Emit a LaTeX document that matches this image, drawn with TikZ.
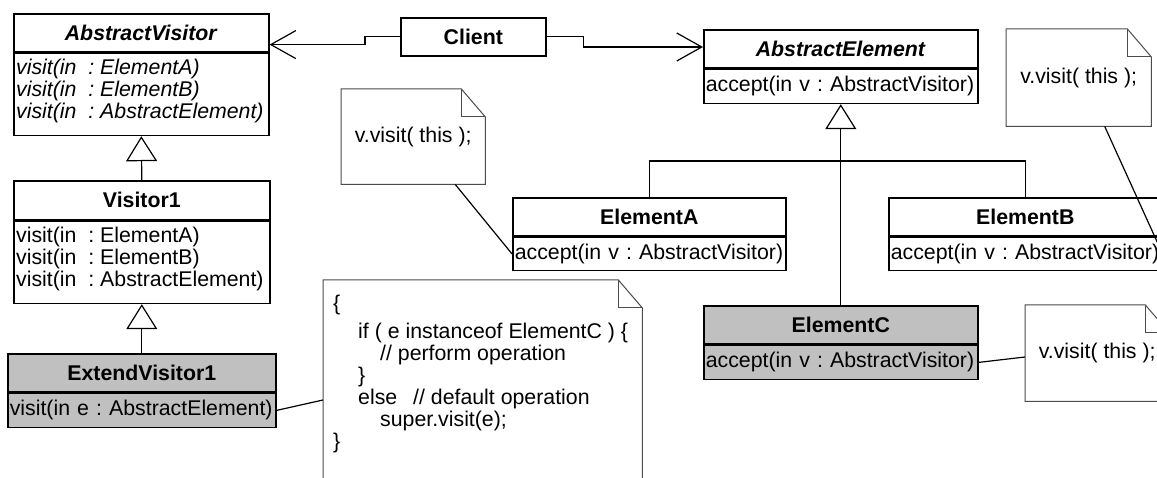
\documentclass[tikz,border=0pt]{standalone}
\usepackage{fontspec}
\setmainfont{Liberation Sans}
\usetikzlibrary{arrows.meta,calc}

\definecolor{umlgray}{HTML}{C0C0C0}
\newcommand\umlfont{\fontsize{21.3}{21.7}\selectfont\frenchspacing\hyphenpenalty=10000\relax}

\tikzset{
  uml/.style={draw=black, line width=1.6pt, inner sep=0pt, anchor=north west, font=\umlfont},
  head/.style={uml, align=center},
  body/.style={uml, align=left, inner xsep=2pt, inner ysep=0pt},
  row/.style={anchor=base west, inner sep=0pt, font=\umlfont},
  shaded/.style={fill=umlgray},
  link/.style={draw=black, line width=1.2pt},
  assoc/.style={link, -{Straight Barb[length=25pt,width=28pt]}},
  inherit/.style={link, -{Triangle[open,length=25pt,width=31pt]}},
  notebox/.style={inner sep=0pt, anchor=north west, font=\umlfont},
  noteline/.style={draw=black!70, line width=1pt, fill=white},
}

% dog-eared outline of a note node
\newcommand\drawnote[1]{%
  \draw[noteline] (#1.north west) -- ([xshift=-24pt]#1.north east)
    -- ([yshift=-28pt]#1.north east) -- (#1.south east) -- (#1.south west) -- cycle;
  \draw[noteline, fill=none] ([xshift=-24pt]#1.north east)
    -- ([xshift=-24pt,yshift=-28pt]#1.north east) -- ([yshift=-28pt]#1.north east);
}

\begin{document}
\begin{tikzpicture}[x=1pt, y=-1pt]
\useasboundingbox (0,0) rectangle (1157,478);
\clip (0,0) rectangle (1157,478);
\fill[white] (0,0) rectangle (1157,478);

% notes (drawn first so their text sits on white)
\node[notebox, minimum width=144pt, minimum height=95pt] (na) at (341,89) {};
\drawnote{na}
\node[font=\umlfont, inner sep=0pt] (natext) at (na.center) {v.visit( this );};

\node[notebox, minimum width=145pt, minimum height=97pt] (nb) at (1006,29) {};
\drawnote{nb}
\node[font=\umlfont, inner sep=0pt] (nbtext) at (nb.center) {v.visit( this );};

\node[notebox, minimum width=144pt, minimum height=96pt] (nc) at (1025,305) {};
\drawnote{nc}
\node[font=\umlfont, inner sep=0pt] (nctext) at (nc.center) {v.visit( this );};

\node[notebox, minimum width=319pt, minimum height=230pt] (nd) at (323,280) {};
\drawnote{nd}
\node[row] (nd1) at (333,310.5) {\{};
\node[row] (nd2) at (358,338.5) {if ( e instanceof ElementC ) \{};
\node[row] (nd3) at (380,360.5) {// perform operation};
\node[row] (nd4) at (358,382.5) {\}};
\node[row] (nd5) at (358,404.5) {else};
\node[row] (nd6) at (413,404.5) {// default operation};
\node[row] (nd7) at (380,426.5) {super.visit(e);};
\node[row] (nd8) at (333,448.5) {\}};

% visitor hierarchy
\node[head, minimum width=255pt, minimum height=38pt] (avh) at (13,13)
  {\textbf{\textit{AbstractVisitor}}};
\node[body, minimum width=255pt, minimum height=82pt] (avb) at (avh.south west) {};
\node[row] (avb1) at ($(avb.north west)+(3,21.5)$) {\textit{visit(in\ \ : ElementA)}};
\node[row] (avb2) at ($(avb.north west)+(3,43.5)$) {\textit{visit(in\ \ : ElementB)}};
\node[row] (avb3) at ($(avb.north west)+(3,65.5)$) {\textit{visit(in\ \ : AbstractElement)}};

\node[head, minimum width=256pt, minimum height=39pt] (v1h) at (13,180)
  {\textbf{Visitor1}};
\node[body, minimum width=256pt, minimum height=82pt] (v1b) at (v1h.south west) {};
\node[row] (v1b1) at ($(v1b.north west)+(3,21.5)$) {visit(in\ \ : ElementA)};
\node[row] (v1b2) at ($(v1b.north west)+(3,43.5)$) {visit(in\ \ : ElementB)};
\node[row] (v1b3) at ($(v1b.north west)+(3,65.5)$) {visit(in\ \ : AbstractElement)};

\node[head, shaded, minimum width=268pt, minimum height=38pt] (evh) at (7,353)
  {\textbf{ExtendVisitor1}};
\node[body, shaded, text width=264pt, minimum height=34pt] (evb) at (evh.south west)
  {visit(in e : AbstractElement)};

% client
\node[head, minimum width=145pt, minimum height=38pt] (cl) at (400,17) {\textbf{Client}};

% element hierarchy
\node[head, minimum width=274pt, minimum height=38pt] (aeh) at (703,29)
  {\textbf{\textit{AbstractElement}}};
\node[body, text width=270pt, minimum height=34pt] (aeb) at (aeh.south west)
  {accept(in v : AbstractVisitor)};

\node[head, minimum width=273pt, minimum height=38pt] (eah) at (512,197) {\textbf{ElementA}};
\node[body, text width=269pt, minimum height=33pt] (eab) at (eah.south west)
  {accept(in v : AbstractVisitor)};

\node[head, minimum width=273pt, minimum height=38pt] (ebh) at (888,197) {\textbf{ElementB}};
\node[body, text width=269pt, minimum height=33pt] (ebb) at (ebh.south west)
  {accept(in v : AbstractVisitor)};

\node[head, shaded, minimum width=274pt, minimum height=38pt] (ech) at (703,305) {\textbf{ElementC}};
\node[body, shaded, text width=270pt, minimum height=34pt] (ecb) at (ech.south west)
  {accept(in v : AbstractVisitor)};

% associations from the client
\draw[assoc] (cl.west) -- ++(-35,0) |- ($(avh.south east)+(0,-8)$);
\draw[assoc] (cl.east) -- ++(37,0) |- ($(aeh.north west)+(0,18)$);

% generalisations
\draw[inherit] (v1h.north) -- (avb.south);
\draw[inherit] (evh.north) -- (v1b.south);
\draw[inherit] (ech.north) -- (aeb.south);
\draw[link] (eah.north) -- ++(0,-36) -| (ebh.north);

% note anchors
\draw[link] ($(na.south)+(42,0)$) -- (eab.west);
\draw[link] ($(nb.south)+(26,0)$) -- (ebb.east);
\draw[link] (ecb.east) -- ($(nc.north west)+(0,52)$);
\draw[link] (evb.east) -- ($(nd.north west)+(0,120)$);
\end{tikzpicture}
\end{document}
